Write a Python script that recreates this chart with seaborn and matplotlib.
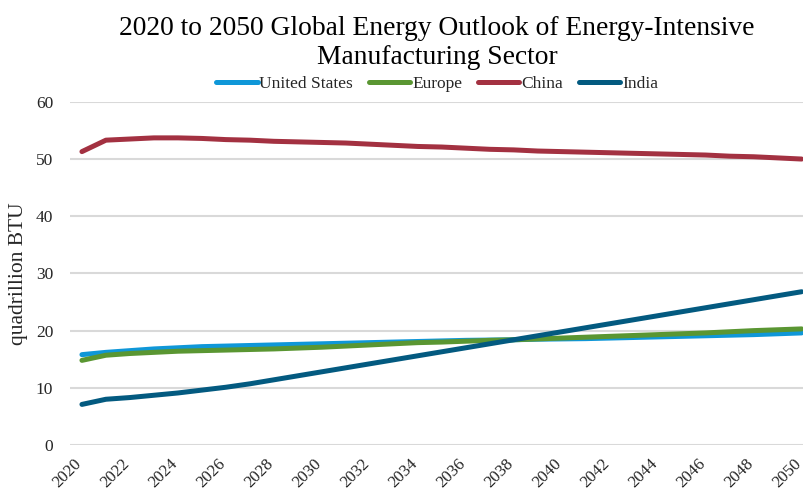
import matplotlib
matplotlib.use("Agg")
import matplotlib.pyplot as plt
import matplotlib.transforms as mtransforms
import seaborn as sns
import pandas as pd

years = list(range(2020, 2051))

united_states = [15.8, 16.2, 16.5, 16.8, 17.0, 17.2, 17.3, 17.4, 17.5, 17.6,
                 17.7, 17.8, 17.9, 18.0, 18.1, 18.2, 18.3, 18.35, 18.4, 18.5,
                 18.55, 18.6, 18.7, 18.8, 18.9, 19.0, 19.1, 19.2, 19.3, 19.45, 19.6]
europe = [14.8, 15.7, 16.0, 16.2, 16.4, 16.5, 16.6, 16.7, 16.8, 16.95,
          17.1, 17.3, 17.5, 17.7, 17.9, 18.0, 18.15, 18.3, 18.4, 18.55,
          18.7, 18.85, 19.0, 19.15, 19.3, 19.45, 19.6, 19.8, 20.0, 20.15, 20.3]
china = [51.3, 53.3, 53.5, 53.7, 53.7, 53.6, 53.4, 53.3, 53.1, 53.0,
         52.9, 52.8, 52.6, 52.4, 52.2, 52.1, 51.9, 51.7, 51.6, 51.4,
         51.3, 51.2, 51.1, 51.0, 50.9, 50.8, 50.7, 50.5, 50.4, 50.2, 50.0]
india = [7.1, 8.0, 8.3, 8.7, 9.1, 9.6, 10.1, 10.7, 11.4, 12.1,
         12.8, 13.5, 14.2, 14.9, 15.6, 16.3, 17.0, 17.7, 18.4, 19.1,
         19.8, 20.5, 21.2, 21.9, 22.6, 23.3, 24.0, 24.7, 25.4, 26.1, 26.8]

regions = ["United States", "Europe", "China", "India"]
colors = ["#0f97d8", "#5a9632", "#a33141", "#035a80"]

frames = []
for name, vals in zip(regions, [united_states, europe, china, india]):
    frames.append(pd.DataFrame({"Year": years, "Value": vals, "Region": name}))
df = pd.concat(frames, ignore_index=True)

sns.set_theme(style="white")
plt.rcParams["font.family"] = ["Liberation Serif", "DejaVu Serif"]

fig = plt.figure(figsize=(8.04, 4.92), dpi=100)
ax = fig.add_axes([0.087, 0.0955, 0.913, 0.6975])

sns.lineplot(data=df, x="Year", y="Value", hue="Region", hue_order=regions,
             palette=colors, linewidth=3.6, ax=ax, legend=True,
             solid_capstyle="round")

ax.set_ylim(0, 60)
ax.set_xlim(2019.5, 2050.1)
ax.set_yticks(range(0, 61, 10))
ax.set_xticks(range(2020, 2051, 2))
ax.set_xticklabels([str(y) for y in range(2020, 2051, 2)], rotation=45,
                   ha="right", va="top", rotation_mode="anchor")
ax.tick_params(axis="both", labelsize=12.5, colors="#262626", length=0)
ax.tick_params(axis="y", pad=12)
ax.tick_params(axis="x", pad=8, labelsize=12.2)

# nudge the slanted year labels left so their ends sit under each tick
shift = mtransforms.ScaledTranslation(-6 / 72, 0, fig.dpi_scale_trans)
for lbl in ax.get_xticklabels():
    lbl.set_transform(lbl.get_transform() + shift)

ax.yaxis.grid(True, color="#d9d9d9", linewidth=1.5)
ax.set_axisbelow(True)
for s in ax.spines.values():
    s.set_visible(False)

ax.set_xlabel("")
ax.set_ylabel("quadrillion BTU", fontsize=15.5, color="#262626", labelpad=6)

ax.set_title("2020 to 2050 Global Energy Outlook of Energy-Intensive\nManufacturing Sector",
             fontsize=19.8, color="black", pad=27, linespacing=1.25)

handles, labels = ax.get_legend_handles_labels()
ax.legend(handles, labels, loc="lower center", bbox_to_anchor=(0.5, 1.0),
          ncol=4, frameon=False, fontsize=12.5, handlelength=2.4,
          handletextpad=0.1, columnspacing=0.9, borderaxespad=0.15)

fig.savefig("out.png", dpi=100)
